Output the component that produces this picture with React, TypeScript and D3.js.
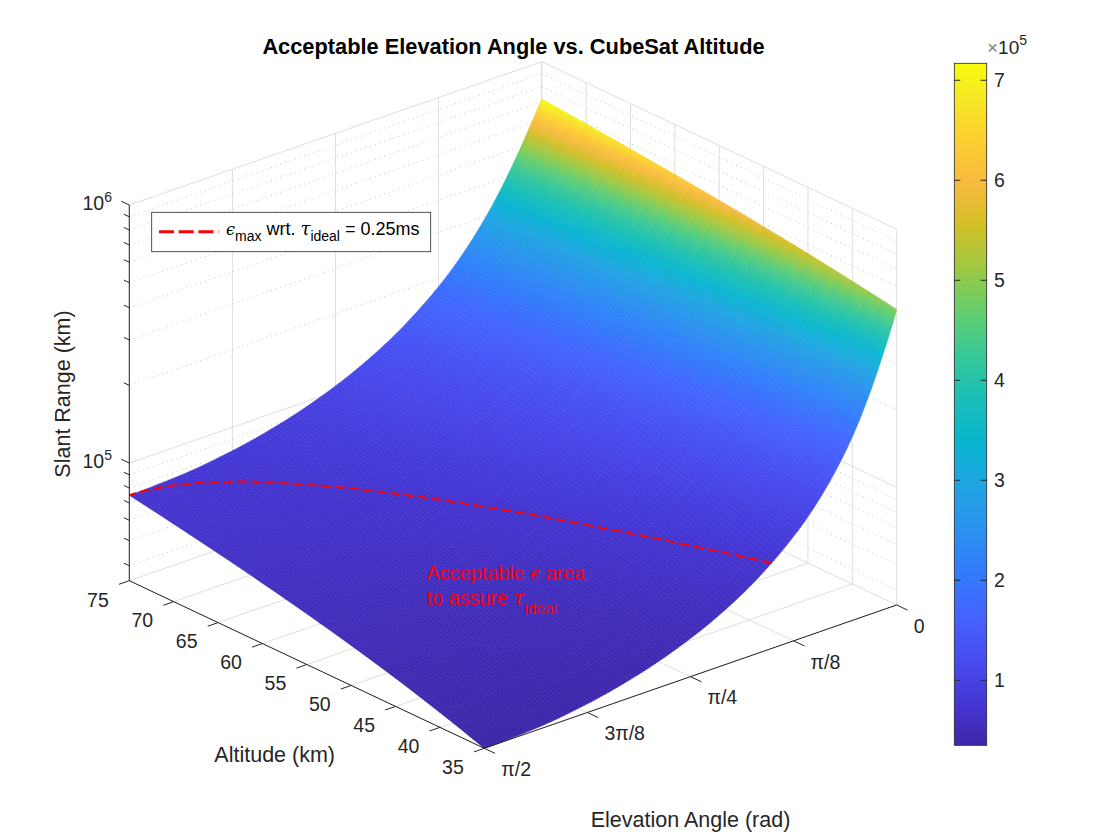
import { useEffect, useRef } from 'react';
import * as d3 from 'd3';

// --- Data ---
const altitudesKm = [35, 45, 55, 65, 75];
const elevationsRad = [0, 0.0491, 0.0982, 0.1473, 0.1963, 0.2945, 0.3927, 0.589, 0.7854, 0.9817, 1.1781, 1.3744, 1.5708];
// slant range, one row per altitude, one column per elevation
const slantRange = [
    [488360, 349580, 258420, 199680, 160780, 114530, 88890, 62290, 49250, 42000, 37850, 35680, 35000],
    [554150, 412250, 313880, 247260, 201490, 145320, 113410, 79840, 63230, 53960, 48650, 45870, 45000],
    [613080, 468920, 365090, 292100, 240480, 175380, 137590, 97290, 77170, 65910, 59450, 56060, 55000],
    [666980, 521080, 412910, 334650, 277950, 204760, 161430, 114630, 91070, 77850, 70240, 66250, 65000],
    [716970, 569690, 457980, 375240, 314090, 233520, 184960, 131870, 104940, 89770, 81030, 76440, 75000],
];

// epsilon_max contour (slant range = c * 0.25 ms)
const contourAltKm = [35, 40, 45, 50, 55, 60, 65, 70, 72, 74, 74.5, 74.9, 75];
const contourElevRad = [0.4758, 0.5532, 0.6347, 0.7215, 0.8157, 0.9207, 1.043, 1.1997, 1.284, 1.4055, 1.4539, 1.5186, 1.5708];
const contourRange = 75000;

const altTicks = [35, 40, 45, 50, 55, 60, 65, 70, 75];
const elevTicks = [0, Math.PI / 8, Math.PI / 4, (3 * Math.PI) / 8, Math.PI / 2];
const elevTickLabels = ['0', 'π/8', 'π/4', '3π/8', 'π/2'];
const rangeMajorTicks = [1e5, 1e6];
const rangeMajorExp = ['5', '6'];
const rangeMinorTicks = [4e4, 5e4, 6e4, 7e4, 8e4, 9e4, 2e5, 3e5, 4e5, 5e5, 6e5, 7e5, 8e5, 9e5];
const cbarTicks = [1e5, 2e5, 3e5, 4e5, 5e5, 6e5, 7e5];
const cbarTickLabels = ['1', '2', '3', '4', '5', '6', '7'];

// parula
const parulaPos = [0, 4, 8, 12, 16, 20, 24, 28, 32, 36, 40, 44, 48, 52, 56, 60, 63].map(i => i / 63);
const parulaHex = ['#3e26a8', '#4537d5', '#484df0', '#4563fd', '#327cfc', '#2b91ef', '#20a5e3', '#08b5d0',
    '#19bfb6', '#37c897', '#64cd6f', '#9dc943', '#d1bf27', '#f8ba3d', '#fccf30', '#f5e924', '#f9fb0e'];

const FONT = '"Liberation Sans", Arial, Helvetica, sans-serif';
const GREEK = '"DejaVu Serif", serif';
const AXIS = '#262626';
const GRID = '#dedede';
const MINOR = '#c4c4c4';

// shape-preserving cubic (pchip) used only to shade the surface smoothly
function pchip(xs: number[], ys: number[]) {
    const n = xs.length;
    const h = d3.range(n - 1).map(k => xs[k + 1] - xs[k]);
    const del = d3.range(n - 1).map(k => (ys[k + 1] - ys[k]) / h[k]);
    const d = new Array(n).fill(0);
    for (let k = 1; k < n - 1; k++) {
        if (del[k - 1] * del[k] > 0) {
            const w1 = 2 * h[k] + h[k - 1], w2 = h[k] + 2 * h[k - 1];
            d[k] = (w1 + w2) / (w1 / del[k - 1] + w2 / del[k]);
        }
    }
    const ends = (h0: number, h1: number, d0: number, d1: number) => {
        let v = ((2 * h0 + h1) * d0 - h0 * d1) / (h0 + h1);
        if (Math.sign(v) !== Math.sign(d0)) v = 0;
        else if (Math.sign(d0) !== Math.sign(d1) && Math.abs(v) > Math.abs(3 * d0)) v = 3 * d0;
        return v;
    };
    d[0] = ends(h[0], h[1], del[0], del[1]);
    d[n - 1] = ends(h[n - 2], h[n - 3], del[n - 2], del[n - 3]);
    return (x: number) => {
        let k = 0;
        while (k < n - 2 && x > xs[k + 1]) k++;
        const t = (x - xs[k]) / h[k];
        const t2 = t * t, t3 = t2 * t;
        return (2 * t3 - 3 * t2 + 1) * ys[k] + (t3 - 2 * t2 + t) * h[k] * d[k]
            + (-2 * t3 + 3 * t2) * ys[k + 1] + (t3 - t2) * h[k] * d[k + 1];
    };
}

export default function App() {
    const svgRef = useRef<SVGSVGElement>(null);

    useEffect(() => {
        if (!svgRef.current) return;
        const svg = d3.select(svgRef.current);
        svg.selectAll('*').remove();

        const zMin = d3.min(slantRange.flat())!;
        const zMax = d3.max(slantRange.flat())!;
        const zTop = 1e6;

        // orthographic box: front-bottom corner is (35 km, pi/2, zMin)
        const ORIGIN = [484.3, 748.3];
        const H_VEC = [-355, -167.6];
        const E_VEC = [412.4, -143.3];
        const Z_LEN = 375.7;
        const hScale = d3.scaleLinear().domain([35, 75]).range([0, 1]);
        const eScale = d3.scaleLinear().domain([Math.PI / 2, 0]).range([0, 1]);
        const zScale = d3.scaleLog().domain([zMin, zTop]).range([0, 1]);

        const proj = (h: number, e: number, z: number): [number, number] => {
            const a = hScale(h), b = eScale(e), c = zScale(z);
            return [ORIGIN[0] + a * H_VEC[0] + b * E_VEC[0], ORIGIN[1] + a * H_VEC[1] + b * E_VEC[1] - c * Z_LEN];
        };
        const hLen = Math.hypot(H_VEC[0], H_VEC[1]);
        const eLen = Math.hypot(E_VEC[0], E_VEC[1]);
        const hDir = [H_VEC[0] / hLen, H_VEC[1] / hLen];
        const eDir = [E_VEC[0] / eLen, E_VEC[1] / eLen];

        const parula = d3.scaleLinear<string>().domain(parulaPos).range(parulaHex)
            .interpolate(d3.interpolateRgb).clamp(true);
        const color = (z: number) => parula((z - zMin) / (zMax - zMin));

        const seg = (g: any, p: [number, number], q: [number, number], stroke: string, dash?: string, w = 1) => {
            g.append('line')
                .attr('x1', p[0]).attr('y1', p[1]).attr('x2', q[0]).attr('y2', q[1])
                .attr('stroke', stroke).attr('stroke-width', w)
                .attr('stroke-dasharray', dash ?? null);
        };

        // --- Back planes & floor grid ---
        const grid = svg.append('g');
        rangeMinorTicks.forEach(z => {
            seg(grid, proj(75, Math.PI / 2, z), proj(75, 0, z), MINOR, '1,4');
            seg(grid, proj(75, 0, z), proj(35, 0, z), MINOR, '1,4');
        });
        elevTicks.forEach(e => {
            seg(grid, proj(75, e, zMin), proj(75, e, zTop), GRID);
            seg(grid, proj(35, e, zMin), proj(75, e, zMin), GRID);
        });
        altTicks.forEach(h => {
            seg(grid, proj(h, 0, zMin), proj(h, 0, zTop), GRID);
            seg(grid, proj(h, Math.PI / 2, zMin), proj(h, 0, zMin), GRID);
        });
        rangeMajorTicks.forEach(z => {
            seg(grid, proj(75, Math.PI / 2, z), proj(75, 0, z), GRID);
            seg(grid, proj(75, 0, z), proj(35, 0, z), GRID);
        });

        // --- Surface (interp shading) ---
        const logZ = slantRange.map(r => r.map(v => Math.log10(v)));
        const rowFns = logZ.map(r => pchip(elevationsRad, r));
        const fineE: number[] = [];
        for (let k = 0; k < elevationsRad.length - 1; k++) {
            const e0 = elevationsRad[k], e1 = elevationsRad[k + 1];
            const dz = d3.max(slantRange, r => Math.abs(r[k + 1] - r[k]))!;
            const n = Math.max(Math.ceil((e1 - e0) / (Math.PI / 256)), Math.ceil(dz / 4500));
            for (let s = 0; s < n; s++) fineE.push(e0 + ((e1 - e0) * s) / n);
        }
        fineE.push(elevationsRad[elevationsRad.length - 1]);
        const fineH = d3.range(25).map(i => 35 + (40 * i) / 24);
        // nodes[ih][ie]
        const cols = fineE.map(e => pchip(altitudesKm, rowFns.map(f => f(e))));
        const nodes = fineH.map(h => cols.map(f => f(h)));

        const cells: { pts: [number, number][]; z: number }[] = [];
        for (let ih = fineH.length - 2; ih >= 0; ih--) {
            for (let ie = 0; ie < fineE.length - 1; ie++) {
                const cs = [[ih, ie], [ih + 1, ie], [ih + 1, ie + 1], [ih, ie + 1]];
                const pts = cs.map(([a, b]) => proj(fineH[a], fineE[b], 10 ** nodes[a][b]));
                const z = d3.mean(cs.map(([a, b]) => 10 ** nodes[a][b]))!;
                cells.push({ pts, z });
            }
        }
        svg.append('g')
            .selectAll('path')
            .data(cells)
            .join('path')
            .attr('d', c => 'M' + c.pts.map(p => p[0].toFixed(2) + ',' + p[1].toFixed(2)).join('L') + 'Z')
            .attr('fill', c => color(c.z))
            .attr('stroke', c => color(c.z))
            .attr('stroke-width', 0.6)
            .attr('stroke-linejoin', 'round');

        // --- epsilon_max contour ---
        const contourPts = contourAltKm.map((h, i) => proj(h, contourElevRad[i], contourRange));
        svg.append('path')
            .attr('d', d3.line().curve(d3.curveCatmullRom)(contourPts))
            .attr('fill', 'none')
            .attr('stroke', '#ff0000')
            .attr('stroke-width', 2)
            .attr('stroke-dasharray', '10,4');

        // --- Axes ---
        const axes = svg.append('g');
        seg(axes, proj(75, Math.PI / 2, zMin), proj(75, Math.PI / 2, zTop), AXIS);
        seg(axes, proj(35, Math.PI / 2, zMin), proj(75, Math.PI / 2, zMin), AXIS);
        seg(axes, proj(35, Math.PI / 2, zMin), proj(35, 0, zMin), AXIS);

        // z ticks
        const zTick = (z: number, len: number) => {
            const p = proj(75, Math.PI / 2, z);
            seg(axes, p, [p[0] + hDir[0] * len, p[1] + hDir[1] * len], AXIS);
        };
        rangeMinorTicks.forEach(z => zTick(z, 6));
        rangeMajorTicks.forEach((z, i) => {
            zTick(z, 9);
            const p = proj(75, Math.PI / 2, z);
            const t = axes.append('text')
                .attr('x', 112).attr('y', p[1] + 5)
                .attr('text-anchor', 'end')
                .attr('font-family', FONT).attr('font-size', 19.5).attr('fill', AXIS);
            t.append('tspan').text('10');
            t.append('tspan').attr('dy', -8).attr('font-size', 14).text(rangeMajorExp[i]);
        });

        // altitude ticks
        altTicks.forEach(h => {
            const p = proj(h, Math.PI / 2, zMin);
            seg(axes, p, [p[0] - eDir[0] * 11, p[1] - eDir[1] * 11], AXIS);
            axes.append('text')
                .attr('x', p[0] - 20.5).attr('y', p[1] + 19).attr('dy', '0.35em')
                .attr('text-anchor', 'end')
                .attr('font-family', FONT).attr('font-size', 19.5).attr('fill', AXIS)
                .text(h);
        });

        // elevation ticks
        elevTicks.forEach((e, i) => {
            const p = proj(35, e, zMin);
            seg(axes, p, [p[0] - hDir[0] * 12, p[1] - hDir[1] * 12], AXIS);
            axes.append('text')
                .attr('x', p[0] + 17).attr('y', p[1] + 21).attr('dy', '0.35em')
                .attr('font-family', FONT).attr('font-size', 19.5).attr('fill', AXIS)
                .text(elevTickLabels[i]);
        });

        // axis labels
        axes.append('text')
            .attr('x', 274.7).attr('y', 762.3).attr('text-anchor', 'middle')
            .attr('font-family', FONT).attr('font-size', 21.5).attr('fill', AXIS)
            .text('Altitude (km)');
        axes.append('text')
            .attr('x', 690.5).attr('y', 827.3).attr('text-anchor', 'middle')
            .attr('font-family', FONT).attr('font-size', 21.5).attr('fill', AXIS)
            .text('Elevation Angle (rad)');
        axes.append('text')
            .attr('transform', 'translate(70,394) rotate(-90)').attr('text-anchor', 'middle')
            .attr('font-family', FONT).attr('font-size', 21.5).attr('fill', AXIS)
            .text('Slant Range (km)');

        // title
        svg.append('text')
            .attr('x', 513.5).attr('y', 54).attr('text-anchor', 'middle')
            .attr('font-family', FONT).attr('font-size', 21.8).attr('font-weight', 'bold').attr('fill', '#000')
            .text('Acceptable Elevation Angle vs. CubeSat Altitude');

        // annotation
        const note = svg.append('g').attr('font-family', FONT).attr('font-size', 19.8).attr('fill', '#ff0000');
        const l1 = note.append('text').attr('x', 426.7).attr('y', 579.5);
        l1.append('tspan').text('Acceptable ');
        l1.append('tspan').attr('font-family', GREEK).attr('font-style', 'italic').attr('font-size', 18).text('ϵ');
        l1.append('tspan').text(' area');
        const l2 = note.append('text').attr('x', 426.7).attr('y', 605);
        l2.append('tspan').text('to assure ');
        l2.append('tspan').attr('font-family', GREEK).attr('font-style', 'italic').text('τ');
        l2.append('tspan').attr('dy', 9).attr('font-size', 15.5).text('ideal');

        // legend
        const lg = svg.append('g');
        lg.append('rect')
            .attr('x', 151.7).attr('y', 212.3).attr('width', 279).attr('height', 39.4)
            .attr('fill', '#fff').attr('stroke', AXIS).attr('stroke-width', 0.8);
        lg.append('line')
            .attr('x1', 159).attr('y1', 231.7).attr('x2', 218.5).attr('y2', 231.7)
            .attr('stroke', '#ff0000').attr('stroke-width', 3).attr('stroke-dasharray', '15,4.7');
        const lt = lg.append('text').attr('x', 226).attr('y', 234.5)
            .attr('font-family', FONT).attr('font-size', 18).attr('fill', '#000');
        lt.append('tspan').attr('font-family', GREEK).attr('font-style', 'italic').attr('font-size', 16).text('ϵ');
        lt.append('tspan').attr('dy', 6.5).attr('font-size', 14).text('max');
        lt.append('tspan').attr('dy', -6.5).text(' wrt. ');
        lt.append('tspan').attr('font-family', GREEK).attr('font-style', 'italic').text('τ');
        lt.append('tspan').attr('dy', 6.5).attr('font-size', 14).text('ideal');
        lt.append('tspan').attr('dy', -6.5).text(' = 0.25ms');

        // --- Colorbar ---
        const cbX = 954.3, cbW = 32.4, cbTop = 63.3, cbBot = 745.3;
        const grad = svg.append('defs').append('linearGradient')
            .attr('id', 'parula').attr('x1', 0).attr('y1', 1).attr('x2', 0).attr('y2', 0);
        parulaPos.forEach((p, i) => grad.append('stop').attr('offset', p).attr('stop-color', parulaHex[i]));
        svg.append('rect')
            .attr('x', cbX).attr('y', cbTop).attr('width', cbW).attr('height', cbBot - cbTop)
            .attr('fill', 'url(#parula)').attr('stroke', AXIS).attr('stroke-width', 0.8);
        const cbScale = d3.scaleLinear().domain([zMin, zMax]).range([cbBot, cbTop]);
        cbarTicks.forEach((v, i) => {
            const y = cbScale(v);
            seg(svg, [cbX, y], [cbX + 6, y], AXIS);
            seg(svg, [cbX + cbW - 6, y], [cbX + cbW, y], AXIS);
            svg.append('text')
                .attr('x', 994).attr('y', y).attr('dy', '0.35em')
                .attr('font-family', FONT).attr('font-size', 19.5).attr('fill', AXIS)
                .text(cbarTickLabels[i]);
        });
        const ex = svg.append('text').attr('x', 987).attr('y', 54)
            .attr('font-family', FONT).attr('font-size', 19).attr('fill', AXIS);
        ex.append('tspan').attr('fill', '#808080').text('×');
        ex.append('tspan').text('10');
        ex.append('tspan').attr('dy', -9).attr('font-size', 14).text('5');
    }, []);

    return (
        <svg
            ref={svgRef}
            width={1120}
            height={840}
            style={{ position: 'absolute', left: 0, top: 0, background: '#fff' }}
        />
    );
}
